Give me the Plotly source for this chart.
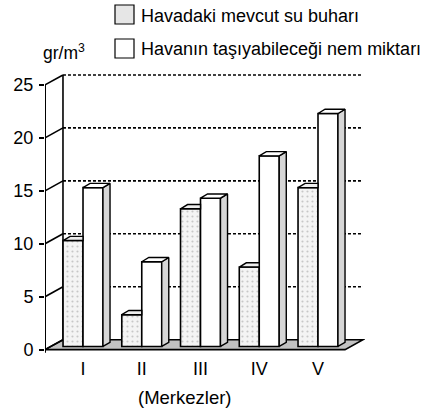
import plotly.graph_objects as go

# ---- data ----
centers = ["I", "II", "III", "IV", "V"]
mevcut = [10, 3, 13, 7.5, 15]          # Havadaki mevcut su buharı
tasiyabilecek = [15, 8, 14, 18, 22]     # Havanın taşıyabileceği nem miktarı
y_ticks = [0, 5, 10, 15, 20, 25]

# ---- geometry (data units) ----
XF = -0.647          # front axis position
XEND = 4.766         # right end of back wall
DX, DY = 0.306, 0.94 # depth of the chart box
BW = 0.34            # bar width
DDX, DDY = 0.12, 0.40  # bar depth
BASE = 0.3

W, H = 435, 413
ML, MR, MT, MB = 45, 70, 69, 57
PW, PH = W - ML - MR, H - MT - MB


def px(x):
    return (x - ML) / PW


def py(y):
    return (H - MB - y) / PH


xs = list(range(len(centers)))
fig = go.Figure()

fig.add_trace(go.Bar(
    x=xs, y=mevcut, base=BASE, width=BW, offset=-BW,
    marker=dict(color="#ededed", line=dict(color="black", width=1.6),
                pattern=dict(shape=".", fgcolor="#9a9a9a", bgcolor="#f4f4f4", size=5, solidity=0.15)),
    showlegend=False, hoverinfo="skip"))
fig.add_trace(go.Bar(
    x=xs, y=tasiyabilecek, base=BASE, width=BW, offset=0,
    marker=dict(color="white", line=dict(color="black", width=1.6)),
    showlegend=False, hoverinfo="skip"))


def polys(items):
    X, Y = [], []
    for pts in items:
        for (a, b) in pts:
            X.append(a)
            Y.append(b)
        X.append(pts[0][0]); Y.append(pts[0][1])
        X.append(None); Y.append(None)
    return X, Y


light_tops, white_tops, white_sides = [], [], []
for i, (a, b) in enumerate(zip(mevcut, tasiyabilecek)):
    x0, x1 = i - BW, i
    t = BASE + a
    light_tops.append([(x0, t), (x0 + DDX, t + DDY), (x1, t + DDY), (x1, t)])
    x0, x1 = i, i + BW
    t = BASE + b
    white_tops.append([(x0, t), (x0 + DDX, t + DDY), (x1 + DDX, t + DDY), (x1, t)])
    white_sides.append([(x1, BASE), (x1, t), (x1 + DDX, t + DDY), (x1 + DDX, BASE + DDY)])

for items, col in [(light_tops, "#eeeeee"), (white_sides, "#d6d6d6"), (white_tops, "white")]:
    X, Y = polys(items)
    fig.add_trace(go.Scatter(x=X, y=Y, mode="lines", fill="toself", fillcolor=col,
                             line=dict(color="black", width=1.4), showlegend=False,
                             hoverinfo="skip"))

shapes = []
# floor
shapes.append(dict(type="path", layer="below",
                   path=f"M {XF},0 L {XF+DX},{DY} L {XEND},{DY} L {XEND-DX},0 Z",
                   fillcolor="#c2c2c2", line=dict(color="black", width=1.6)))
# back wall left edge
shapes.append(dict(type="line", layer="below", x0=XF + DX, y0=DY, x1=XF + DX, y1=25 + DY,
                   line=dict(color="black", width=1.6)))
# front axis
shapes.append(dict(type="line", layer="below", x0=XF, y0=-0.3, x1=XF, y1=25,
                   line=dict(color="black", width=2)))
for v in y_ticks:
    shapes.append(dict(type="line", layer="below", x0=XF, y0=v, x1=XF + DX, y1=v + DY,
                       line=dict(color="black", width=1.6)))
    if v > 0:
        shapes.append(dict(type="line", layer="below", x0=XF + DX, y0=v + DY, x1=XEND, y1=v + DY,
                           line=dict(color="black", width=1.6, dash="3px,2px")))

# legend boxes
shapes.append(dict(type="rect", xref="paper", yref="paper", x0=px(115), x1=px(134), y0=py(24), y1=py(5),
                   fillcolor="#e6e6e6", line=dict(color="black", width=1.2)))
shapes.append(dict(type="rect", xref="paper", yref="paper", x0=px(115), x1=px(134), y0=py(58), y1=py(39),
                   fillcolor="white", line=dict(color="black", width=1.2)))

FONT = "Liberation Sans, Arial, sans-serif"
annotations = [
    dict(text="Havadaki mevcut su buharı", x=px(139), y=py(16), xref="paper", yref="paper",
         xanchor="left", yanchor="middle", showarrow=False, font=dict(size=18)),
    dict(text="Havanın taşıyabileceği nem miktarı", x=px(139), y=py(49), xref="paper", yref="paper",
         xanchor="left", yanchor="middle", showarrow=False, font=dict(size=18)),
    dict(text="gr/m<sup>3</sup>", x=px(41), y=py(52), xref="paper", yref="paper",
         xanchor="left", yanchor="middle", showarrow=False, font=dict(size=17.5)),
    dict(text="(Merkezler)", x=px(185), y=py(397), xref="paper", yref="paper",
         xanchor="center", yanchor="middle", showarrow=False, font=dict(size=18.5)),
]

fig.update_layout(
    width=W, height=H,
    margin=dict(l=ML, r=MR, t=MT, b=MB, pad=0),
    paper_bgcolor="white", plot_bgcolor="white",
    font=dict(family=FONT, color="black", size=17),
    barmode="overlay",
    shapes=shapes, annotations=annotations,
    xaxis=dict(range=[XF, 4.8], tickvals=xs, ticktext=centers, showgrid=False,
               zeroline=False, showline=False, ticks="", ticklabelstandoff=0,
               tickfont=dict(size=18)),
    yaxis=dict(range=[-0.6, 26.5], tickvals=y_ticks, showgrid=False, zeroline=False,
               showline=False, ticks="outside", ticklen=5, tickwidth=1.5, tickcolor="black",
               ticklabelstandoff=2, tickfont=dict(size=18)),
)

fig.write_html("out.html", config={"displayModeBar": False},
               post_script="document.body.style.margin='0';document.body.style.overflow='hidden';")
